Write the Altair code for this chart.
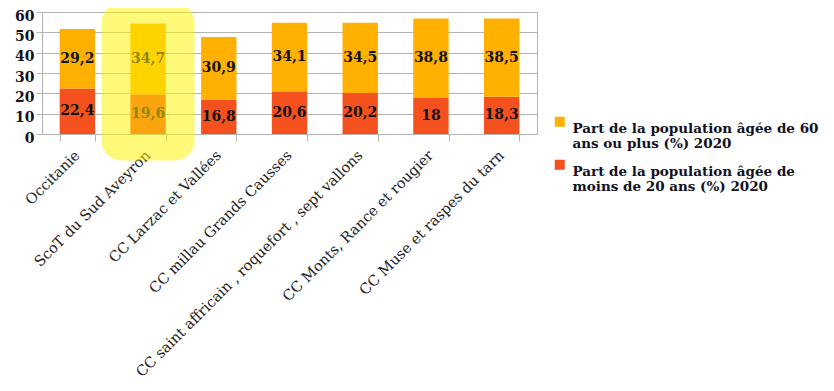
import altair as alt
import pandas as pd

CATEGORIES = [
    "Occitanie",
    "ScoT du Sud Aveyron",
    "CC Larzac et Vallées",
    "CC millau Grands Causses",
    "CC saint affricain , roquefort , sept vallons",
    "CC Monts, Rance et rougier",
    "CC Muse et raspes du tarn",
]
UNDER_20 = [22.4, 19.6, 16.8, 20.6, 20.2, 18, 18.3]
OVER_60 = [29.2, 34.7, 30.9, 34.1, 34.5, 38.8, 38.5]
SERIES_OVER_60 = "Part de la population âgée de 60 ans ou plus (%)  2020"
SERIES_UNDER_20 = "Part de la population âgée de moins de 20 ans (%)  2020"
LEGEND_LINES_OVER_60 = ["Part de la population âgée de 60", "ans ou plus (%)  2020"]
LEGEND_LINES_UNDER_20 = ["Part de la population âgée de", "moins de 20 ans (%)  2020"]
Y_TICKS = [0, 10, 20, 30, 40, 50, 60]

# highlighter annotation (hand-drawn yellow marker over the second bar)
HIGHLIGHT_CAT = "ScoT du Sud Aveyron"
HIGHLIGHT_TOP = 64.5
HIGHLIGHT_BOTTOM = -13

COLOR_OVER_60 = "#FFB000"
COLOR_UNDER_20 = "#F4511E"
GRID = "#B3B3B3"
FONT = "DejaVu Serif"

rows = []
for c, u, o in zip(CATEGORIES, UNDER_20, OVER_60):
    rows.append({"cat": c, "series": SERIES_UNDER_20, "value": u, "ord": 0})
    rows.append({"cat": c, "series": SERIES_OVER_60, "value": o, "ord": 1})
df = pd.DataFrame(rows)

hl = pd.DataFrame([{"cat": HIGHLIGHT_CAT, "top": HIGHLIGHT_TOP, "bottom": HIGHLIGHT_BOTTOM}])

x_axis = alt.Axis(
    labelAngle=-45,
    labelAlign="right",
    labelBaseline="middle",
    labelFont=FONT,
    labelFontSize=14.5,
    labelColor="#222222",
    labelPadding=12,
    tickBand="extent",
    tickSize=7,
    labelLimit=500,
    labelOverlap=False,
    grid=False,
    domainColor=GRID,
    tickColor=GRID,
)
y_axis = alt.Axis(
    values=Y_TICKS,
    labelFont=FONT,
    labelFontSize=14,
    labelFontWeight="bold",
    labelColor="#111122",
    labelOverlap=False,
    labelOffset=4,
    tickSize=6,
    labelPadding=2,
    grid=True,
    gridColor=GRID,
    domainColor=GRID,
    tickColor=GRID,
)
x_scale = alt.Scale(paddingInner=0.5, paddingOuter=0.25)
y_scale = alt.Scale(domain=[0, 60], nice=False)


def xe():
    return alt.X("cat:N", sort=CATEGORIES, title=None, scale=x_scale, axis=x_axis)


base = alt.Chart(df).transform_stack(
    stack="value", groupby=["cat"], as_=["y0", "y1"], sort=[alt.SortField("ord")]
).transform_calculate(
    mid="(datum.y0 + datum.y1) / 2",
    lab="replace(toString(datum.value), '.', ',')",
)

legend_expr = (
    "datum.label == '" + SERIES_OVER_60 + "' ? ['" + "', '".join(LEGEND_LINES_OVER_60)
    + "'] : ['" + "', '".join(LEGEND_LINES_UNDER_20) + "']"
)

bars = base.mark_bar().encode(
    x=xe(),
    y=alt.Y("y0:Q", scale=y_scale, title=None, axis=y_axis),
    y2="y1:Q",
    color=alt.Color(
        "series:N",
        scale=alt.Scale(domain=[SERIES_OVER_60, SERIES_UNDER_20], range=[COLOR_OVER_60, COLOR_UNDER_20]),
        legend=alt.Legend(
            title=None,
            orient="none",
            legendX=511,
            legendY=103,
            symbolType="square",
            symbolSize=100,
            symbolStrokeWidth=0,
            labelFont=FONT,
            labelFontSize=13.5,
            labelFontWeight="bold",
            labelColor="#111122",
            labelLimit=500,
            labelExpr=legend_expr,
            labelBaseline="top",
            labelOffset=6,
            rowPadding=7,
        ),
    ),
)

texts = base.mark_text(font=FONT, fontSize=14, fontWeight="bold", color="#111111").encode(
    x=xe(),
    y=alt.Y("mid:Q", scale=y_scale, title=None, axis=y_axis),
    text="lab:N",
)

highlight = alt.Chart(hl).mark_bar(
    color="#FFF400", opacity=0.52, width=93, cornerRadius=20
).encode(
    x=xe(),
    y=alt.Y("top:Q", scale=y_scale, title=None, axis=y_axis),
    y2="bottom:Q",
)

chart = alt.layer(bars, texts, highlight).properties(
    width=495,
    height=122,
    autosize=alt.AutoSizeParams(type="none"),
    padding={"left": 34, "top": 4, "right": 288, "bottom": 249},
).configure_view(stroke=GRID)

chart.save("out.html", embed_options={"renderer": "svg", "actions": False})
